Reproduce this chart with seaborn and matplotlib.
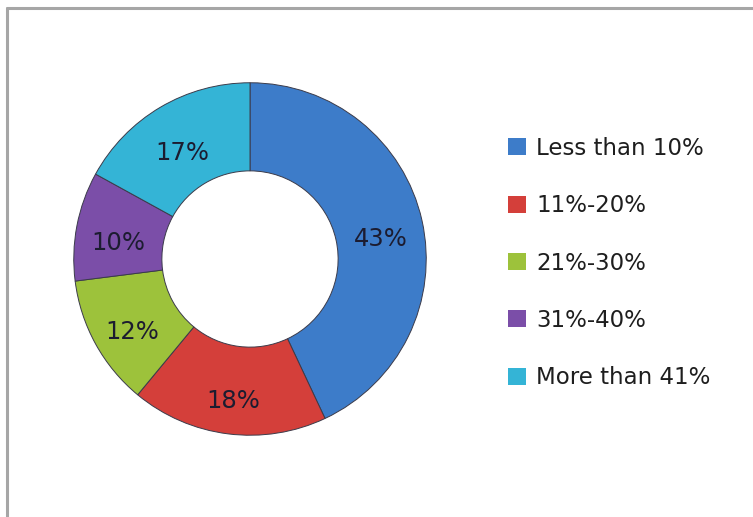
import matplotlib
matplotlib.use("Agg")
import matplotlib.pyplot as plt
from matplotlib.lines import Line2D
import seaborn as sns

# Share of respondents by range
categories = ["Less than 10%", "11%-20%", "21%-30%", "31%-40%", "More than 41%"]
shares = [43, 18, 12, 10, 17]
colors = ["#3d7cc9", "#d43f3a", "#9dc23b", "#7b4ea8", "#34b4d6"]

sns.set_theme(style="white")
plt.rcParams["font.family"] = ["DejaVu Sans"]
palette = sns.color_palette(colors)

W, H = 753, 517
fig = plt.figure(figsize=(W / 100, H / 100), dpi=100)
fig.patch.set_facecolor("white")

# square axes holding the ring, sized in pixels
cx, cy, r = 250, 259, 178
ax = fig.add_axes([(cx - r) / W, 1 - (cy + r) / H, 2 * r / W, 2 * r / H])

wedges, texts, autotexts = ax.pie(
    shares,
    colors=palette,
    startangle=90,
    counterclock=False,
    radius=1.0,
    autopct=lambda p: f"{p:.0f}%",
    pctdistance=0.76,
    wedgeprops=dict(width=0.5, edgecolor="#3b3b4a", linewidth=0.7),
    textprops=dict(fontsize=17.5, color="#1c1c30"),
)
# percentage labels sit slightly below the ring's mid-line
for t in autotexts:
    x, y = t.get_position()
    t.set_position((x, y - 0.05))

ax.set_xlim(-1.01, 1.01)
ax.set_ylim(-1.01, 1.01)
ax.set_aspect("equal")
ax.axis("off")

leg = fig.legend(
    wedges,
    categories,
    loc="center left",
    bbox_to_anchor=(497 / W, 1 - 263 / H),
    frameon=False,
    fontsize=16.5,
    handlelength=0.75,
    handleheight=0.75,
    handletextpad=0.45,
    labelspacing=1.5,
    borderpad=0,
    labelcolor="#1e1e1e",
)
for h in leg.legend_handles:
    h.set_edgecolor("none")

# chart frame (left and top edges visible)
frame_kw = dict(color="#a6a6a6", linewidth=2.2, transform=fig.transFigure)
fig.add_artist(Line2D([7 / W, 7 / W], [0, 1 - 7.5 / H], **frame_kw))
fig.add_artist(Line2D([7 / W, 1], [1 - 7.5 / H, 1 - 7.5 / H], **frame_kw))

fig.savefig("out.png", dpi=100)
